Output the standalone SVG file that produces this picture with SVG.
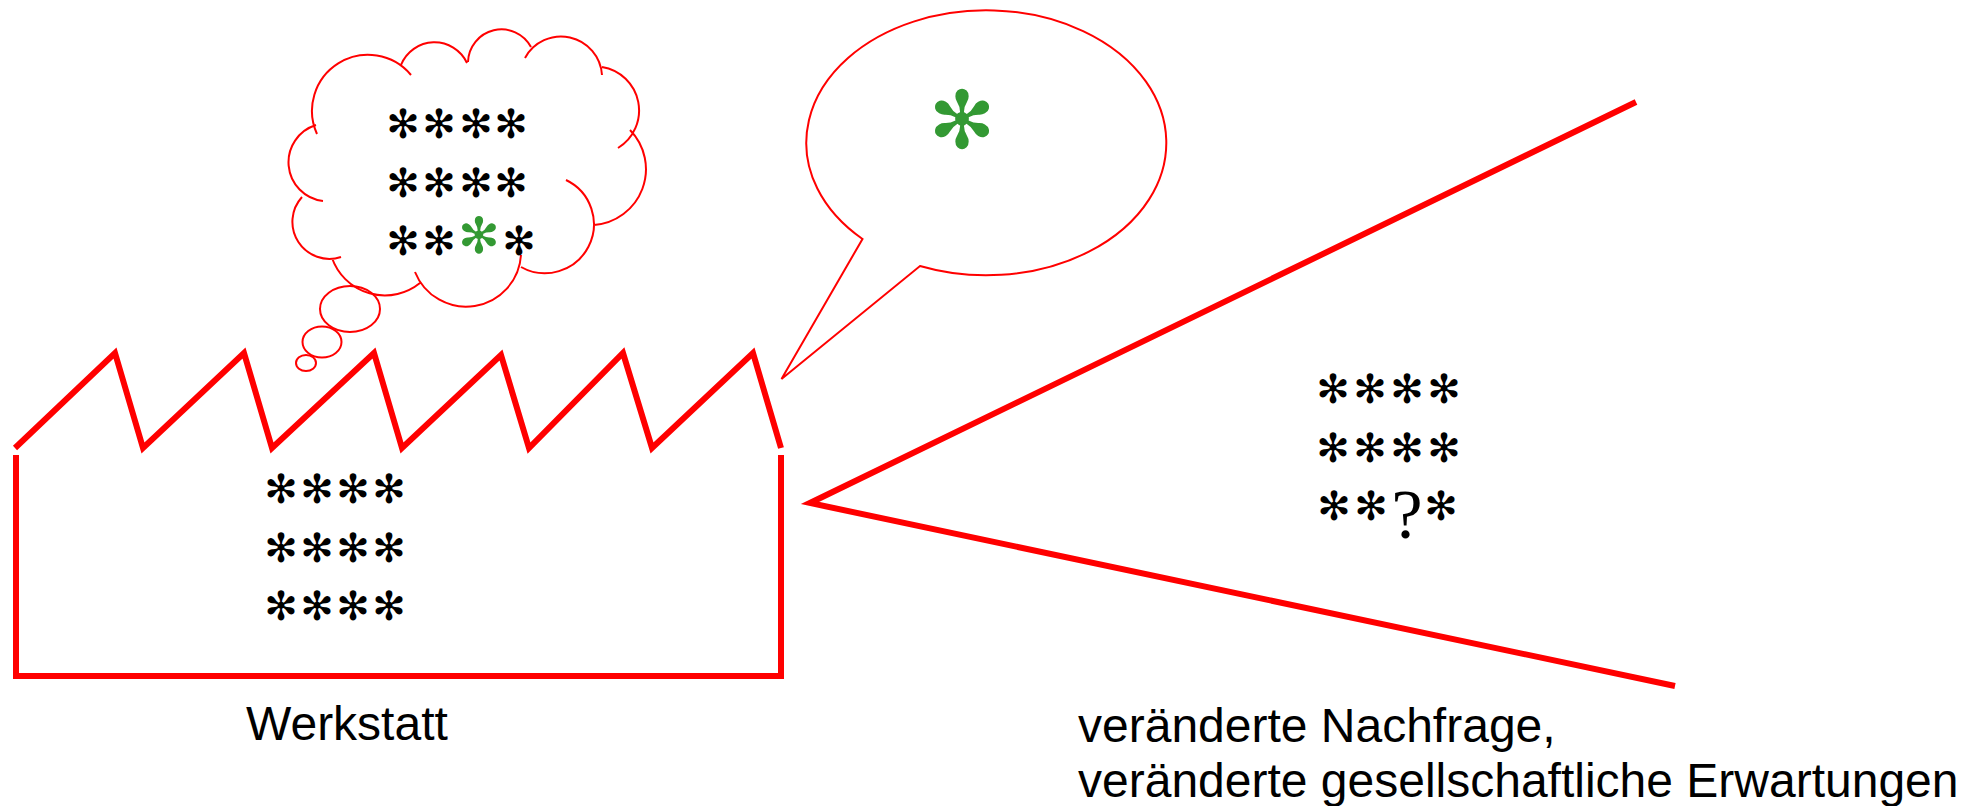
<svg xmlns="http://www.w3.org/2000/svg" width="1978" height="806" viewBox="0 0 1978 806">
<style>
.thick{fill:none;stroke:#ff0000;stroke-width:6;stroke-linejoin:miter}
.thin{fill:none;stroke:#ff0000;stroke-width:2}
.bub{fill:#ffffff;stroke:#ff0000;stroke-width:2}
.st{font-family:"DejaVu Sans",sans-serif;font-size:40px;fill:#000;text-anchor:middle}
.g{fill:#339933}
.q{font-family:"Liberation Serif",serif;font-size:70px;fill:#000;text-anchor:middle}
.lbl{font-family:"Liberation Sans",Arial,sans-serif;font-size:48px;fill:#000}
</style>
<rect width="1978" height="806" fill="#fff"/>
<g id="factory">
<path class="thick" d="M16,455 V676 H781 V455"/>
<path class="thick" d="M15,448 L115,353 L143,448 L244,353 L272,448 L374,353 L402,448 L501,355 L529,448 L623,353 L652,448 L753,353 L781,448"/>
<text class="st" x="281 317 353 389" y="503">✻✻✻✻</text>
<text class="st" x="281 317 353 389" y="562">✻✻✻✻</text>
<text class="st" x="281 317 353 389" y="620">✻✻✻✻</text>
<text class="lbl" x="246" y="740">Werkstatt</text>
</g>
<g id="thought">
<path class="thin" d="M317,134 A56,56 0 0 1 411,75 M401,65 A36,36 0 0 1 467,63 M468,62 A33.5,33.5 0 0 1 531,47 M525,58 A41,41 0 0 1 602,75 M602,67 A44,44 0 0 1 618,148 M630,130 A56,56 0 0 1 594,225 M566,180 A49,49 0 1 1 521,267 M521,255 A55,55 0 0 1 415,272 M420,283 A56,56 0 0 1 332,258 M341,257 A37,37 0 0 1 302,197 M323,201 A39,39 0 0 1 316,125"/>
<ellipse class="thin" cx="350" cy="309" rx="30" ry="23"/>
<ellipse class="thin" cx="322" cy="342" rx="19.5" ry="15.5"/>
<ellipse class="thin" cx="306" cy="363" rx="10" ry="8"/>
<text class="st" x="403 439 476 511" y="138">✻✻✻✻</text>
<text class="st" x="403 439 476 511" y="197">✻✻✻✻</text>
<text class="st" x="403 439" y="255">✻✻</text>
<text class="st g" x="479" y="253" style="font-size:50px">✻</text>
<text class="st" x="519" y="255">✻</text>
</g>
<g id="speech">
<path class="bub" d="M862.5,239 A180,132.5 0 1 1 920,266 L781.5,379 Z"/>
<text class="st g" x="962" y="148" style="font-size:80px">✻</text>
</g>
<g id="market">
<path class="thick" d="M1636,102 L810,503 L1675,686"/>
<text class="st" x="1333 1370 1407 1444" y="403">✻✻✻✻</text>
<text class="st" x="1333 1370 1407 1444" y="462">✻✻✻✻</text>
<text class="st" x="1334 1371" y="520">✻✻</text>
<text class="q" x="1407" y="538">?</text>
<text class="st" x="1441" y="520">✻</text>
<text class="lbl" x="1078" y="742">veränderte Nachfrage,</text>
<text class="lbl" x="1078" y="797">veränderte gesellschaftliche Erwartungen</text>
</g>
</svg>
